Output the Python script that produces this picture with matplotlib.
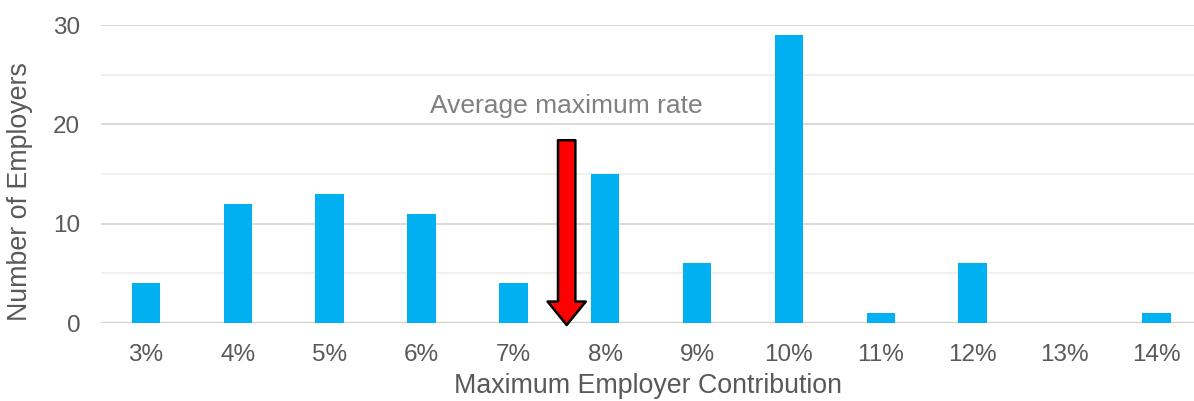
import numpy as np
import matplotlib.pyplot as plt

# data
categories = ['3%', '4%', '5%', '6%', '7%', '8%', '9%', '10%', '11%', '12%', '13%', '14%']
employers = [4, 12, 13, 11, 4, 15, 6, 29, 1, 6, 0, 1]
avg_rate_pos = 4.58      # between 7% and 8%, in category units
arrow_top = 18.4

plt.rcParams['font.family'] = ['Liberation Sans', 'DejaVu Sans']

fig = plt.figure(figsize=(11.94, 4.01), dpi=100)
ax = fig.add_axes([101 / 1194, 1 - 323 / 401, 1 - 101 / 1194, 298 / 401])

x = np.arange(len(categories))
ax.bar(x, employers, width=0.31, color='#00B0F0', zorder=3)

# gridlines: major every 10, lighter every 5
for v in [5, 15, 25]:
    ax.axhline(v, color='#EDEDED', linewidth=1.2, zorder=1)
for v in [10, 20, 30]:
    ax.axhline(v, color='#D9D9D9', linewidth=1.4, zorder=1)
ax.axhline(0, color='#D0D0D0', linewidth=1.6, zorder=2)

ax.set_xlim(-0.49, 11.41)
ax.set_ylim(0, 30)
ax.set_yticks([0, 10, 20, 30])
ax.set_xticks(x)
ax.set_xticklabels(categories)
ax.tick_params(axis='both', length=0, labelsize=17.5, labelcolor='#595959')
ax.tick_params(axis='x', pad=15)
ax.tick_params(axis='y', pad=15)
for s in ax.spines.values():
    s.set_visible(False)

ax.set_xlabel('Maximum Employer Contribution', fontsize=19.3, color='#595959', labelpad=5)
ax.set_ylabel('Number of Employers', fontsize=19.3, color='#595959')
ax.yaxis.set_label_coords(-0.062, 0.44)

# average marker
ax.annotate('', xy=(avg_rate_pos, -0.2), xytext=(avg_rate_pos, arrow_top),
            arrowprops=dict(arrowstyle='simple,head_width=2.2,head_length=1.35,tail_width=1.0',
                            fc='#FF0000', ec='black', lw=1.8, shrinkA=0, shrinkB=0,
                            mutation_scale=12.5),
            zorder=5, annotation_clip=False)
ax.text(avg_rate_pos, 21.8, 'Average maximum rate', ha='center', va='center',
        fontsize=19, color='#808080')

fig.savefig('out.png', dpi=100)
